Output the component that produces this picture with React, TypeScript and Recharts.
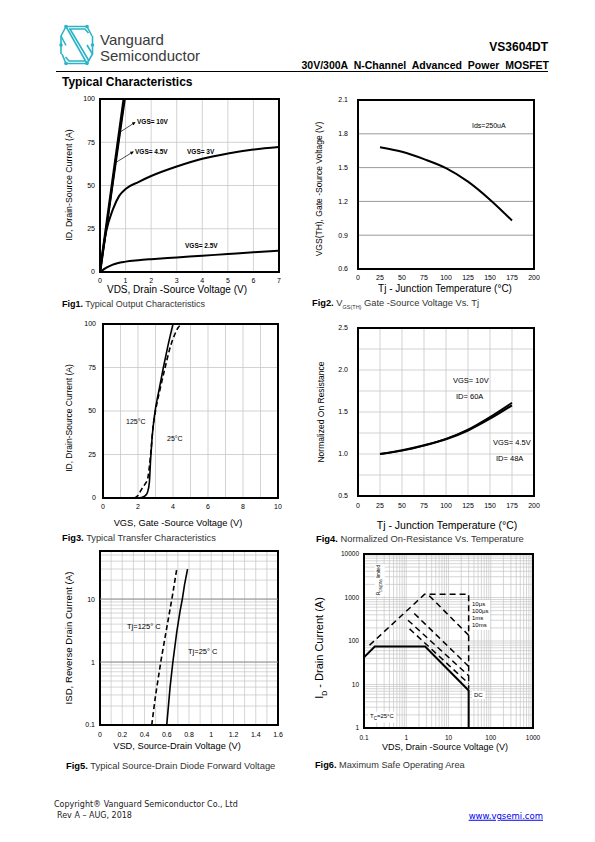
import React from "react"
import {
  LineChart,
  Line,
  XAxis,
  YAxis,
  CartesianGrid,
  ReferenceArea,
  ReferenceLine,
} from "recharts"

// ---- Fig1: output characteristics ----
const outVds10 = [0, 0.93]
const outId10 = [0, 100]
const outVds45 = [0, 0.45, 0.97]
const outId45 = [0, 46, 100]
const outVds3 = [0, 0.1, 0.25, 0.5, 0.75, 1, 1.5, 2, 3, 4, 5, 6, 7]
const outId3 = [0, 11, 24, 36, 44, 48, 52, 55.5, 61, 65.5, 68.5, 70.8, 72.3]
const outVds25 = [0, 0.25, 0.5, 1, 1.5, 2, 3, 4, 5, 6, 7]
const outId25 = [0, 2.5, 4.3, 6, 6.8, 7.4, 8.4, 9.4, 10.4, 11.4, 12.3]
const fig1XTicks = [0, 1, 2, 3, 4, 5, 6, 7]
const fig1YTicks = [0, 25, 50, 75, 100]

// ---- Fig2: threshold voltage vs Tj ----
const vthTemp = [25, 50, 75, 100, 125, 150, 175]
const vthVolt = [1.68, 1.64, 1.575, 1.495, 1.375, 1.215, 1.03]
const fig2XTicks = [0, 25, 50, 75, 100, 125, 150, 175, 200]
const fig2YTicks = [0.6, 0.9, 1.2, 1.5, 1.8, 2.1]

// ---- Fig3: transfer characteristics ----
const trVgs25 = [1.9, 2.2, 2.4, 2.55, 2.65, 2.72, 2.8, 2.95, 3.2, 3.45, 3.7, 4.0]
const trId25 = [0, 0.3, 1.2, 3.5, 9, 22, 34, 48, 62, 75, 87, 100]
const trVgs125 = [1.8, 2.0, 2.2, 2.4, 2.55, 2.65, 2.75, 2.85, 3.0, 3.25, 3.55, 3.85, 4.1, 4.3, 4.5]
const trId125 = [0, 1.5, 5, 8, 11, 18, 28, 40, 50, 62, 75, 87, 94, 98, 100]
const fig3XTicks = [0, 1, 2, 3, 4, 5, 6, 7, 8, 9, 10]
const fig3YTicks = [0, 25, 50, 75, 100]

// ---- Fig4: normalized on-resistance ----
const rdsTemp = [25, 50, 75, 100, 125, 150, 175]
const rds10V = [1.0, 1.045, 1.105, 1.18, 1.29, 1.44, 1.61]
const rds45V = [1.0, 1.04, 1.1, 1.175, 1.28, 1.42, 1.58]
const fig4XTicks = [0, 25, 50, 75, 100, 125, 150, 175, 200]
const fig4YTicks = [0.5, 0.75, 1.0, 1.25, 1.5, 1.75, 2.0, 2.25, 2.5]

// ---- Fig5: body diode forward voltage ----
const sdV125 = [0.465, 0.5, 0.55, 0.6, 0.65, 0.69]
const sdI125 = [0.1, 0.3, 1.1, 3.5, 11, 30]
const sdV25 = [0.6, 0.63, 0.655, 0.69, 0.72, 0.74, 0.76, 0.787]
const sdI25 = [0.1, 0.4, 1, 3, 6.5, 10, 17, 30]
const fig5XTicks = [0, 0.1, 0.2, 0.3, 0.4, 0.5, 0.6, 0.7, 0.8, 0.9, 1, 1.1, 1.2, 1.3, 1.4, 1.5, 1.6]
const fig5XLabels = ["0", "0.2", "0.4", "0.6", "0.8", "1", "1.2", "1.4", "1.6"]
const fig5YTicks = [0.1, 0.2, 0.3, 0.4, 0.5, 0.6, 0.7, 0.8, 0.9, 1, 2, 3, 4, 5, 6, 7, 8, 9, 10, 20, 30, 40, 50]
const fig5YLabels = ["0.1", "1", "10"]

// ---- Fig6: safe operating area ----
const soaDcV = [0.1, 0.18, 2.8, 30, 30]
const soaDcI = [42, 75, 75, 7.3, 1]
const soaEnvV = [0.135, 2.7, 30, 30]
const soaEnvI = [80, 1180, 1180, 8]
const soa10usV = [3.5, 30]
const soa10usI = [1100, 135]
const soa100usV = [1.55, 30]
const soa100usI = [430, 26]
const soa1msV = [1.1, 30]
const soa1msI = [300, 16]
const soa10msV = [1.2, 30]
const soa10msI = [190, 10.5]
const fig6XTicks = [
  0.1, 0.2, 0.3, 0.4, 0.5, 0.6, 0.7, 0.8, 0.9, 1, 2, 3, 4, 5, 6, 7, 8, 9, 10, 20, 30, 40, 50, 60, 70, 80,
  90, 100, 200, 300, 400, 500, 600, 700, 800, 900, 1000,
]
const fig6XLabels = ["0.1", "1", "10", "100", "1000"]
const fig6YTicks = [
  1, 2, 3, 4, 5, 6, 7, 8, 9, 10, 20, 30, 40, 50, 60, 70, 80, 90, 100, 200, 300, 400, 500, 600, 700, 800,
  900, 1000, 2000, 3000, 4000, 5000, 6000, 7000, 8000, 9000, 10000,
]
const fig6YLabels = ["1", "10", "100", "1000", "10000"]

const zip = (xs: number[], ys: number[]) => xs.map((x, i) => ({ x, y: ys[i] }))

const SANS = '"Liberation Sans", Arial, Helvetica, sans-serif'
const NARROW = '"Liberation Sans Narrow", "Liberation Sans", Arial, sans-serif'
const VERDANA = '"DejaVu Sans", Verdana, sans-serif'
const TEAL = "#2ab4c6"

const tickStyle = { fontSize: 7, fill: "#000", fontFamily: NARROW }
const onlyLabels = (labels: string[]) => (v: number) => (labels.includes(String(v)) ? String(v) : "")

type Box = { x: number; y: number; w: number; h: number }

const FIG1: Box = { x: 100, y: 99, w: 179, h: 173 }
const FIG2: Box = { x: 358, y: 100, w: 176, h: 169 }
const FIG3: Box = { x: 103, y: 324, w: 175, h: 174 }
const FIG4: Box = { x: 358, y: 328, w: 176, h: 168 }
const FIG5: Box = { x: 100, y: 551, w: 178, h: 174 }
const FIG6: Box = { x: 364, y: 554, w: 169, h: 174 }

const chartPos = (b: Box) => ({ position: "absolute" as const, left: b.x - 40, top: b.y - 10 })
const chartSize = (b: Box) => ({
  width: b.w + 50,
  height: b.h + 40,
  margin: { top: 10, right: 10, bottom: 0, left: 0 },
})

function T({
  x,
  y,
  size = 8,
  bold = false,
  align = "left",
  rotate = false,
  font = SANS,
  color = "#000",
  children,
  style,
}: {
  x: number
  y: number
  size?: number
  bold?: boolean
  align?: "left" | "center" | "right"
  rotate?: boolean
  font?: string
  color?: string
  children: React.ReactNode
  style?: React.CSSProperties
}) {
  let tf = "translateY(-50%)"
  if (align === "center") tf = "translate(-50%,-50%)"
  if (align === "right") tf = "translate(-100%,-50%)"
  if (rotate) tf = "translate(-50%,-50%) rotate(-90deg)"
  return (
    <div
      style={{
        position: "absolute",
        left: x,
        top: y,
        transform: tf,
        whiteSpace: "nowrap",
        lineHeight: 1,
        fontSize: size,
        fontWeight: bold ? 700 : 400,
        fontFamily: font,
        color,
        ...style,
      }}
    >
      {children}
    </div>
  )
}

function Logo() {
  return (
    <svg style={{ position: "absolute", left: 56, top: 22 }} width={42} height={46} viewBox="56 22 42 46">
      <g fill="none" stroke={TEAL} strokeWidth={1.6} strokeLinejoin="round">
        <polyline points="92,36 87,26.5 66,26.5 61,36 66,45.5" />
        <polyline points="88.5,33 85,29 69,29" />
        <line x1="66" y1="26.5" x2="87" y2="63.5" />
        <line x1="70" y1="29" x2="89" y2="61" />
        <polyline points="62,54 66,63.5 87,63.5 92.5,54 87,45" />
        <polyline points="65.5,57 69,61 85,61" />
        <line x1="61" y1="36" x2="61" y2="54" />
        <line x1="92.5" y1="36" x2="92.5" y2="54" />
      </g>
      <g fill={TEAL}>
        <circle cx="66" cy="26.5" r="1.8" />
        <circle cx="87" cy="26.5" r="1.8" />
        <circle cx="61" cy="45" r="1.8" />
        <circle cx="92.5" cy="45" r="1.8" />
        <circle cx="66" cy="63.5" r="1.8" />
        <circle cx="87" cy="63.5" r="1.8" />
      </g>
    </svg>
  )
}

const frame = (x1: number, x2: number, y1: number, y2: number) => (
  <ReferenceArea
    x1={x1}
    x2={x2}
    y1={y1}
    y2={y2}
    fill="none"
    stroke="#000"
    strokeWidth={2}
    ifOverflow="visible"
  />
)

export default function App() {
  return (
    <div
      style={{
        position: "absolute",
        left: 0,
        top: 0,
        width: 595,
        height: 842,
        background: "#fff",
        fontFamily: SANS,
      }}
    >
      {/* header */}
      <Logo />
      <T x={100} y={39} size={15} color="#3a3a3a">
        Vanguard
      </T>
      <T x={100} y={55} size={15} color="#3a3a3a">
        Semiconductor
      </T>
      <T x={548} y={47} size={12} bold align="right">
        VS3604DT
      </T>
      <T x={549} y={65} size={10.5} bold align="right" style={{ wordSpacing: 3 }}>
        30V/300A N-Channel Advanced Power MOSFET
      </T>
      <div style={{ position: "absolute", left: 56, top: 70.5, width: 492, height: 1.5, background: "#000" }} />
      <T x={62} y={82} size={12} bold>
        Typical Characteristics
      </T>

      {/* Fig1 */}
      <div style={chartPos(FIG1)}>
        <LineChart {...chartSize(FIG1)}>
          <defs>
            <marker id="arr" viewBox="0 0 6 6" refX="5" refY="3" markerWidth="5" markerHeight="5" orient="auto">
              <path d="M0,0 L6,3 L0,6 z" fill="#000" />
            </marker>
          </defs>
          <CartesianGrid stroke="#c8c8c8" strokeWidth={0.8} />
          <XAxis dataKey="x" type="number" domain={[0, 7]} ticks={fig1XTicks} interval={0} tickLine={false} axisLine={false} tickSize={0} tickMargin={6} height={30} tick={tickStyle} allowDataOverflow />
          <YAxis type="number" domain={[0, 100]} ticks={fig1YTicks} interval={0} tickLine={false} axisLine={false} tickSize={0} tickMargin={5} width={40} tick={tickStyle} allowDataOverflow />
          {frame(0, 7, 0, 100)}
          <ReferenceLine segment={[{ x: 0.8, y: 81 }, { x: 1.37, y: 86.5 }]} stroke="#000" strokeWidth={0.7} markerEnd="url(#arr)" />
          <ReferenceLine segment={[{ x: 0.64, y: 63.5 }, { x: 1.3, y: 69.5 }]} stroke="#000" strokeWidth={0.7} markerEnd="url(#arr)" />
          <Line data={zip(outVds25, outId25)} dataKey="y" type="monotone" stroke="#000" strokeWidth={2} dot={false} isAnimationActive={false} />
          <Line data={zip(outVds3, outId3)} dataKey="y" type="monotone" stroke="#000" strokeWidth={2} dot={false} isAnimationActive={false} />
          <Line data={zip(outVds45, outId45)} dataKey="y" type="monotone" stroke="#000" strokeWidth={2} dot={false} isAnimationActive={false} />
          <Line data={zip(outVds10, outId10)} dataKey="y" type="linear" stroke="#000" strokeWidth={2.5} dot={false} isAnimationActive={false} />
        </LineChart>
      </div>
      <T x={137} y={122} size={6.5} bold font={NARROW}>VGS= 10V</T>
      <T x={135} y={152} size={6.5} bold font={NARROW}>VGS= 4.5V</T>
      <T x={187} y={152} size={6.5} bold font={NARROW}>VGS= 3V</T>
      <T x={185} y={245.5} size={6.5} bold font={NARROW}>VGS= 2.5V</T>
      <T x={69} y={185} size={8.8} rotate>ID, Drain-Source Current (A)</T>
      <T x={177} y={290} size={10} align="center">VDS, Drain -Source Voltage (V)</T>
      <T x={62} y={304} size={9}>
        <b>Fig1.</b> <span style={{ color: "#333" }}>Typical Output Characteristics</span>
      </T>

      {/* Fig2 */}
      <div style={chartPos(FIG2)}>
        <LineChart {...chartSize(FIG2)}>
          <CartesianGrid stroke="#808080" strokeWidth={0.8} vertical={false} />
          <XAxis dataKey="x" type="number" domain={[0, 200]} ticks={fig2XTicks} interval={0} tickLine={false} axisLine={false} tickSize={0} tickMargin={6} height={30} tick={tickStyle} />
          <YAxis type="number" domain={[0.6, 2.1]} ticks={fig2YTicks} interval={0} tickLine={false} axisLine={false} tickSize={0} tickMargin={10} width={40} tick={tickStyle} tickFormatter={(v: number) => v.toFixed(1)} />
          {frame(0, 200, 0.6, 2.1)}
          <Line data={zip(vthTemp, vthVolt)} dataKey="y" type="monotone" stroke="#000" strokeWidth={2} dot={false} isAnimationActive={false} />
        </LineChart>
      </div>
      <T x={472} y={125} size={7} font={NARROW}>Ids=250uA</T>
      <T x={319} y={189} size={8.5} rotate>VGS(TH), Gate -Source Voltage (V)</T>
      <T x={445} y={289} size={10} align="center">Tj - Junction Temperature (°C)</T>
      <T x={312} y={304} size={9.3}>
        <b>Fig2.</b>{" "}
        <span style={{ color: "#333" }}>
          V<sub style={{ fontSize: 5.5, lineHeight: 0 }}>GS(TH)</sub> Gate -Source Voltage Vs. Tj
        </span>
      </T>

      {/* Fig3 */}
      <div style={chartPos(FIG3)}>
        <LineChart {...chartSize(FIG3)}>
          <CartesianGrid stroke="#c8c8c8" strokeWidth={0.8} />
          <XAxis dataKey="x" type="number" domain={[0, 10]} ticks={fig3XTicks} interval={0} tickLine={false} axisLine={false} tickSize={0} tickMargin={6} height={30} tick={tickStyle} tickFormatter={(v: number) => (v % 2 === 0 ? String(v) : "")} />
          <YAxis type="number" domain={[0, 100]} ticks={fig3YTicks} interval={0} tickLine={false} axisLine={false} tickSize={0} tickMargin={7} width={40} tick={tickStyle} allowDataOverflow />
          {frame(0, 10, 0, 100)}
          <Line data={zip(trVgs125, trId125)} dataKey="y" type="monotone" stroke="#000" strokeWidth={1.6} strokeDasharray="5 3" dot={false} isAnimationActive={false} />
          <Line data={zip(trVgs25, trId25)} dataKey="y" type="monotone" stroke="#000" strokeWidth={1.6} dot={false} isAnimationActive={false} />
        </LineChart>
      </div>
      <T x={126} y={421} size={7} font={NARROW}>125°C</T>
      <T x={167} y={438} size={7} font={NARROW}>25°C</T>
      <T x={69} y={418} size={8.5} rotate>ID, Drain-Source Current (A)</T>
      <T x={178} y={524} size={9.3} align="center">VGS, Gate -Source Voltage (V)</T>
      <T x={62} y={539} size={9.3}>
        <b>Fig3.</b> <span style={{ color: "#333" }}>Typical Transfer Characteristics</span>
      </T>

      {/* Fig4 */}
      <div style={chartPos(FIG4)}>
        <LineChart {...chartSize(FIG4)}>
          <CartesianGrid stroke="#c8c8c8" strokeWidth={0.8} />
          <XAxis dataKey="x" type="number" domain={[0, 200]} ticks={fig4XTicks} interval={0} tickLine={false} axisLine={false} tickSize={0} tickMargin={7} height={30} tick={tickStyle} />
          <YAxis type="number" domain={[0.5, 2.5]} ticks={fig4YTicks} interval={0} tickLine={false} axisLine={false} tickSize={0} tickMargin={10} width={40} tick={tickStyle} tickFormatter={(v: number) => (Math.round(v * 100) % 50 === 0 ? v.toFixed(1) : "")} />
          {frame(0, 200, 0.5, 2.5)}
          <Line data={zip(rdsTemp, rds45V)} dataKey="y" type="monotone" stroke="#000" strokeWidth={2} dot={false} isAnimationActive={false} />
          <Line data={zip(rdsTemp, rds10V)} dataKey="y" type="monotone" stroke="#000" strokeWidth={2} dot={false} isAnimationActive={false} />
        </LineChart>
      </div>
      <T x={453} y={381} size={7.5} font={NARROW}>VGS= 10V</T>
      <T x={456} y={397} size={7.5} font={NARROW}>ID= 60A</T>
      <T x={493} y={443} size={7.5} font={NARROW}>VGS= 4.5V</T>
      <T x={496} y={459} size={7.5} font={NARROW}>ID= 48A</T>
      <T x={321} y={412} size={8.5} rotate>Normalized On Resistance</T>
      <T x={447} y={525} size={10.5} align="center">Tj - Junction Temperature (°C)</T>
      <T x={316} y={539} size={9.4}>
        <b>Fig4.</b> <span style={{ color: "#333" }}>Normalized On-Resistance Vs. Temperature</span>
      </T>

      {/* Fig5 */}
      <div style={chartPos(FIG5)}>
        <LineChart {...chartSize(FIG5)}>
          <CartesianGrid stroke="#c4c4c4" strokeWidth={0.7} />
          <XAxis dataKey="x" type="number" domain={[0, 1.6]} ticks={fig5XTicks} interval={0} tickLine={false} axisLine={false} tickSize={0} tickMargin={7} height={30} tick={tickStyle} tickFormatter={onlyLabels(fig5XLabels)} />
          <YAxis type="number" scale="log" domain={[0.1, 58]} ticks={fig5YTicks} interval={0} tickLine={false} axisLine={false} tickSize={0} tickMargin={5} width={40} tick={tickStyle} tickFormatter={onlyLabels(fig5YLabels)} allowDataOverflow />
          <ReferenceLine y={1} stroke="#888" strokeWidth={0.9} />
          <ReferenceLine y={10} stroke="#888" strokeWidth={0.9} />
          {frame(0, 1.6, 0.1, 58)}
          <Line data={zip(sdV125, sdI125)} dataKey="y" type="linear" stroke="#000" strokeWidth={1.6} strokeDasharray="5 3" dot={false} isAnimationActive={false} />
          <Line data={zip(sdV25, sdI25)} dataKey="y" type="linear" stroke="#000" strokeWidth={1.6} dot={false} isAnimationActive={false} />
        </LineChart>
      </div>
      <T x={127} y={627} size={7.5} font={NARROW}>Tj=125° C</T>
      <T x={188} y={652} size={7.5} font={NARROW}>Tj=25° C</T>
      <T x={69} y={638} size={9.6} rotate>ISD, Reverse Drain Current (A)</T>
      <T x={177} y={747} size={9.3} align="center">VSD, Source-Drain Voltage (V)</T>
      <T x={66} y={766} size={9.4}>
        <b>Fig5.</b> <span style={{ color: "#333" }}>Typical Source-Drain Diode Forward Voltage</span>
      </T>

      {/* Fig6 */}
      <div style={chartPos(FIG6)}>
        <LineChart {...chartSize(FIG6)}>
          <CartesianGrid stroke="#c4c4c4" strokeWidth={0.7} />
          <XAxis dataKey="x" type="number" scale="log" domain={[0.1, 1000]} ticks={fig6XTicks} interval={0} tickLine={false} axisLine={false} tickSize={0} tickMargin={7} height={30} tick={{ ...tickStyle, fontSize: 6.5 }} tickFormatter={onlyLabels(fig6XLabels)} allowDataOverflow />
          <YAxis type="number" scale="log" domain={[1, 10000]} ticks={fig6YTicks} interval={0} tickLine={false} axisLine={false} tickSize={0} tickMargin={5} width={40} tick={{ ...tickStyle, fontSize: 6.5 }} tickFormatter={onlyLabels(fig6YLabels)} allowDataOverflow />
          {frame(0.1, 1000, 1, 10000)}
          <Line data={zip(soaEnvV, soaEnvI)} dataKey="y" type="linear" stroke="#000" strokeWidth={1.5} strokeDasharray="6 4" dot={false} isAnimationActive={false} />
          <Line data={zip(soa10usV, soa10usI)} dataKey="y" type="linear" stroke="#000" strokeWidth={1.5} strokeDasharray="6 4" dot={false} isAnimationActive={false} />
          <Line data={zip(soa100usV, soa100usI)} dataKey="y" type="linear" stroke="#000" strokeWidth={1.5} strokeDasharray="6 4" dot={false} isAnimationActive={false} />
          <Line data={zip(soa1msV, soa1msI)} dataKey="y" type="linear" stroke="#000" strokeWidth={1.5} strokeDasharray="6 4" dot={false} isAnimationActive={false} />
          <Line data={zip(soa10msV, soa10msI)} dataKey="y" type="linear" stroke="#000" strokeWidth={1.5} strokeDasharray="6 4" dot={false} isAnimationActive={false} />
          <Line data={zip(soaDcV, soaDcI)} dataKey="y" type="linear" stroke="#000" strokeWidth={2} dot={false} isAnimationActive={false} />
        </LineChart>
      </div>
      <T x={380} y={580} size={4.5} rotate style={{ background: "#fff", padding: "2px 1px" }}>
        R<sub style={{ fontSize: 3.5 }}>DS(ON)</sub> limited
      </T>
      <div style={{ position: "absolute", left: 470, top: 600, background: "#fff", padding: "1px 2px" }}>
        {["10μs", "100μs", "1ms", "10ms"].map((t) => (
          <div key={t} style={{ fontSize: 6, lineHeight: "7px", fontFamily: NARROW }}>
            {t}
          </div>
        ))}
      </div>
      <T x={472} y={695} size={6} font={NARROW} style={{ background: "#fff", padding: "1px 2px" }}>DC</T>
      <T x={368} y={717} size={6} font={NARROW} style={{ background: "#fff", padding: "1px 2px" }}>
        T<sub style={{ fontSize: 4.5 }}>C</sub>=25°C
      </T>
      <T x={321} y={648} size={11} rotate>
        I<sub style={{ fontSize: 7 }}>D</sub> - Drain Current (A)
      </T>
      <T x={445} y={747} size={9} align="center">VDS, Drain -Source Voltage (V)</T>
      <T x={315} y={766} size={9.2}>
        <b>Fig6.</b> <span style={{ color: "#333" }}>Maximum Safe Operating Area</span>
      </T>

      {/* footer */}
      <T x={54} y={805} size={8} font={VERDANA} color="#222">
        Copyright® Vanguard Semiconductor Co., Ltd
      </T>
      <T x={57} y={816} size={8} font={VERDANA} color="#222">
        Rev A – AUG, 2018
      </T>
      <T x={543} y={816} size={8.5} align="right" font={VERDANA} color="#0000ee" style={{ textDecoration: "underline" }}>
        www.vgsemi.com
      </T>
    </div>
  )
}
